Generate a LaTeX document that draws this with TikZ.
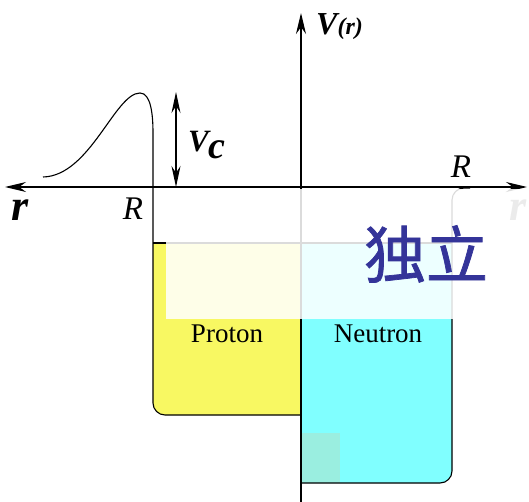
\documentclass[tikz,border=0pt]{standalone}
\usepackage{fontspec}
\setmainfont{Liberation Serif}
\newfontfamily\cjk[FakeBold=1.2]{Noto Sans CJK SC}
\usetikzlibrary{arrows.meta}
\definecolor{protonY}{HTML}{F8F862}
\definecolor{neutronC}{HTML}{80FFFF}
\definecolor{tealsq}{HTML}{9AEEE0}
\definecolor{cjkblue}{HTML}{343499}
\tikzset{
  axis/.style={line width=1.1pt,-{Stealth[length=21pt,width=10pt]}},
  wall/.style={line width=1.1pt},
  lbl/.style={inner sep=0pt,anchor=center},
}
\begin{document}
\begin{tikzpicture}[x=1pt,y=-1pt]
\useasboundingbox (0,0) rectangle (529,502);
% fills
\fill[protonY] (153,243) -- (301,243) -- (301,415) -- (165,415) arc[start angle=90,end angle=180,radius=12] -- cycle;
\fill[neutronC] (301,243) -- (452,243) -- (452,471) arc[start angle=0,end angle=90,radius=12] -- (301,483) -- cycle;
\fill[tealsq] (301,433) rectangle (340,483);
% outlines
\coordinate (ctop) at (153,133);
\draw[wall] (43,177) .. controls (90,176) and (115,93) .. (140,93)
  .. controls (151,93) and (153,115) .. (ctop) -- (153,403)
  arc[start angle=180,end angle=90,radius=12] -- (301,415);
\draw[wall] (153,243) -- (452,243);
\draw[wall] (301,483) -- (440,483) arc[start angle=90,end angle=0,radius=12] -- (452,200)
  arc[start angle=180,end angle=270,radius=12] -- (470,188);
% axes
\coordinate (xl) at (5,187);
\coordinate (xr) at (527,187);
\coordinate (yb) at (301,502);
\coordinate (yt) at (301,13);
\draw[axis] (301,187) -- (xl);
\draw[axis] (301,187) -- (xr);
\draw[axis] (yb) -- (yt);
% Vc arrow
\coordinate (vc1) at (176,92);
\coordinate (vc2) at (176,187);
\draw[line width=1.1pt,{Stealth[length=21pt,width=9pt]}-{Stealth[length=21pt,width=9pt]}] (vc1) -- (vc2);
% faint r on right
\node[lbl,text=black!55] (rr) at (518,210) {\fontsize{44}{44}\selectfont\bfseries\itshape r};
% overlay
\fill[white,opacity=0.86] (166,189) rectangle (529,319);
% labels
\node[lbl] (rl) at (20,210) {\fontsize{44}{44}\selectfont\bfseries\itshape r};
\node[lbl] (Rl) at (133,209) {\fontsize{33}{33}\selectfont\itshape R};
\node[lbl] (Rr) at (461,167) {\fontsize{33}{33}\selectfont\itshape R};
\node[lbl,anchor=west] (Vr) at (316,27) {\fontsize{32}{32}\selectfont\bfseries\itshape V\fontsize{24}{24}\selectfont(r)};
\node[lbl,anchor=west] (Vc) at (188,145) {\fontsize{31}{31}\selectfont\bfseries\itshape V\raisebox{-7pt}{\fontsize{38}{38}\selectfont c}};
\node[lbl] (pl) at (227,334) {\fontsize{27}{27}\selectfont Proton};
\node[lbl] (nl) at (378,334) {\fontsize{27}{27}\selectfont Neutron};
\node[lbl,text=cjkblue] (dl) at (426,254) {\fontsize{62}{62}\selectfont\cjk 独立};
\end{tikzpicture}
\end{document}
